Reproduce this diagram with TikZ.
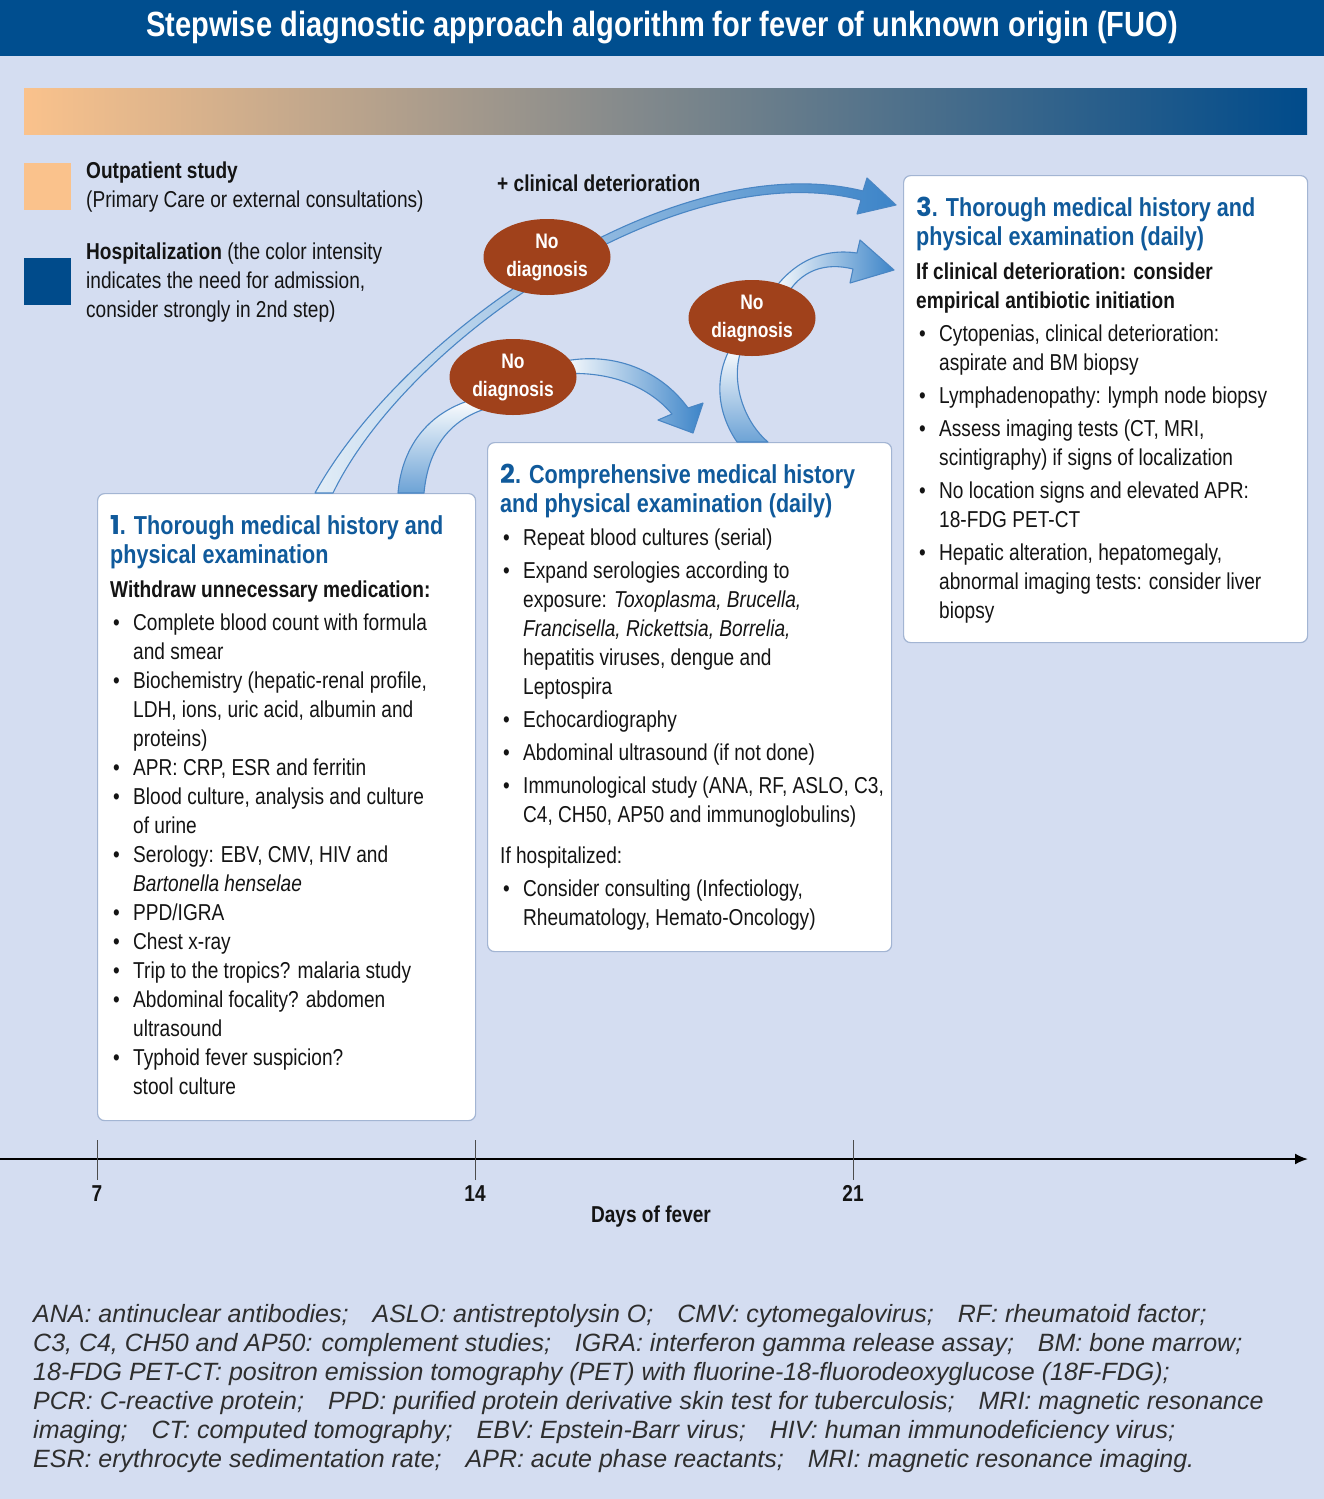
\documentclass[tikz,border=0pt]{standalone}
\usepackage{fontspec}
\setmainfont{Liberation Sans}[FakeStretch=0.83]
\newfontfamily\numfont{Poppins}
\newfontfamily\footfont{Liberation Sans}
\usetikzlibrary{arrows.meta,calc,positioning,shapes.geometric}

\definecolor{bgblue}{HTML}{D4DDF1}
\definecolor{hdrblue}{HTML}{004E8F}
\definecolor{peach}{HTML}{FAC28C}
\definecolor{hospblue}{HTML}{004B8B}
\definecolor{titleblue}{HTML}{105A9B}
\definecolor{rust}{HTML}{A0411B}
\definecolor{arrowblue}{HTML}{3C84C8}
\definecolor{arrowline}{HTML}{4A86C4}
\definecolor{boxline}{HTML}{A3B5D3}
\definecolor{txtblack}{HTML}{141414}
\definecolor{footgray}{HTML}{2E2E2E}

\newcommand\ttlfont{\color{titleblue}\bfseries\fontsize{26}{29}\selectfont}
\newcommand\bitm{\makebox[23pt][l]{\hspace*{3pt}\textbullet}}
\newcommand\bind{\hspace*{23pt}}
\newcommand\fsep{\hspace*{24pt}}

\tikzset{
 stepbox/.style={draw=boxline,line width=1.2pt,fill=white,rounded corners=7pt,anchor=north west,inner sep=0pt},
 boxtxt/.style={align=left,inner sep=0pt,font=\fontsize{23}{29}\selectfont,text=txtblack},
 nodiag/.style={ellipse,fill=rust,text=white,minimum width=127pt,minimum height=76pt,inner sep=0pt,align=center,font=\fontsize{21}{28}\selectfont\bfseries},
 fatarrow/.style={draw=arrowline,line width=1.1pt,line join=round},
 legendtxt/.style={align=left,inner sep=0pt,anchor=north west,font=\fontsize{23}{29}\selectfont,text=txtblack},
 daytick/.style={draw=black!70,line width=1pt},
 daylbl/.style={anchor=base,inner sep=0pt,font=\fontsize{23}{28}\selectfont\bfseries,text=txtblack}
}

\begin{document}
\begin{tikzpicture}[x=1pt,y=-1pt]
\useasboundingbox (0,0) rectangle (1324,1499);
\fill[bgblue] (0,0) rectangle (1324,1499);
\fill[hdrblue] (0,0) rectangle (1324,56);
\node[text=white,font=\fontsize{35}{40}\selectfont\bfseries] (title) at (662,28) {Stepwise diagnostic approach algorithm for fever of unknown origin (FUO)};
\shade[left color=peach,right color=hospblue] (24,88) rectangle (1307,134);

% legend
\fill[peach] (24,163) rectangle (71,210);
\fill[hospblue] (24,258) rectangle (71,305);
\node[legendtxt] (outpat) at (86,162) {\textbf{Outpatient study}\\(Primary Care or external consultations)};
\node[legendtxt] (hosp) at (86,243) {\textbf{Hospitalization} (the color intensity\\indicates the need for admission,\\consider strongly in 2nd step)};
\node[anchor=base west,inner sep=0pt,font=\fontsize{23}{29}\selectfont\bfseries,text=txtblack] (deter) at (497,191) {+ clinical deterioration};

% the three steps
\node[stepbox,minimum width=378pt,minimum height=627pt] (box1) at (97,493) {};
\node[stepbox,minimum width=404pt,minimum height=509pt] (box2) at (487,442) {};
\node[stepbox,minimum width=404pt,minimum height=467pt] (box3) at (903,175) {};

\node[boxtxt,below right=22pt and 13pt of box1.north west] (txt1) {%
{\ttlfont{\numfont 1}. Thorough medical history and}\\
{\ttlfont physical examination}\\[5pt]
\textbf{Withdraw unnecessary medication:}\\[4pt]
\bitm Complete blood count with formula\\
\bind and smear\\
\bitm Biochemistry (hepatic-renal profile,\\
\bind LDH, ions, uric acid, albumin and\\
\bind proteins)\\
\bitm APR: CRP, ESR and ferritin\\
\bitm Blood culture, analysis and culture\\
\bind of urine\\
\bitm Serology: EBV, CMV, HIV and\\
\bind\textit{Bartonella henselae}\\
\bitm PPD/IGRA\\
\bitm Chest x-ray\\
\bitm Trip to the tropics? malaria study\\
\bitm Abdominal focality? abdomen\\
\bind ultrasound\\
\bitm Typhoid fever suspicion?\\
\bind stool culture};

\node[boxtxt,below right=22pt and 13pt of box2.north west] (txt2) {%
{\ttlfont{\numfont 2}. Comprehensive medical history}\\
{\ttlfont and physical examination (daily)}\\[4pt]
\bitm Repeat blood cultures (serial)\\[4pt]
\bitm Expand serologies according to\\
\bind exposure: \textit{Toxoplasma, Brucella,}\\
\bind\textit{Francisella, Rickettsia, Borrelia,}\\
\bind hepatitis viruses, dengue and\\
\bind Leptospira\\[4pt]
\bitm Echocardiography\\[4pt]
\bitm Abdominal ultrasound (if not done)\\[4pt]
\bitm Immunological study (ANA, RF, ASLO, C3,\\
\bind C4, CH50, AP50 and immunoglobulins)\\[12pt]
If hospitalized:\\[4pt]
\bitm Consider consulting (Infectiology,\\
\bind Rheumatology, Hemato-Oncology)};

\node[boxtxt,below right=22pt and 13pt of box3.north west] (txt3) {%
{\ttlfont{\numfont 3}. Thorough medical history and}\\
{\ttlfont physical examination (daily)}\\[5pt]
\textbf{If clinical deterioration: consider}\\
\textbf{empirical antibiotic initiation}\\[4pt]
\bitm Cytopenias, clinical deterioration:\\
\bind aspirate and BM biopsy\\[4pt]
\bitm Lymphadenopathy: lymph node biopsy\\[4pt]
\bitm Assess imaging tests (CT, MRI,\\
\bind scintigraphy) if signs of localization\\[4pt]
\bitm No location signs and elevated APR:\\
\bind 18-FDG PET-CT\\[4pt]
\bitm Hepatic alteration, hepatomegaly,\\
\bind abnormal imaging tests: consider liver\\
\bind biopsy};

% curved arrows (drawn before the ellipses, which cover their joints)
\path[fatarrow,left color=white!85!arrowblue,right color=arrowblue]
 ($(box1.north west)+(218,0)$) .. controls (405,330) and (676,145) .. (863,191)
 -- (867,178) -- ($(box3.north west)+(-7,30)$) -- (857,214) -- (861,200)
 .. controls (680,153) and (408,338) .. ($(box1.north west)+(236,0)$) -- cycle;
\path[fatarrow,top color=white,bottom color=arrowblue!75]
 ($(box1.north west)+(301,0)$) .. controls (402,445) and (430,410) .. (478,398)
 -- (488,408) .. controls (448,420) and (428,450) .. ($(box1.north west)+(327,0)$) -- cycle;
\path[fatarrow,left color=white,right color=arrowblue]
 (560,362) .. controls (615,350) and (662,372) .. (688,408)
 -- (703,403) -- ($(box2.north west)+(206,-9)$) -- (658,420) -- (672,414)
 .. controls (650,388) and (612,370) .. (560,374) -- cycle;
\path[fatarrow,top color=white,bottom color=arrowblue!75]
 ($(box2.north west)+(250,0)$) .. controls (714,408) and (716,372) .. (732,345)
 -- (742,348) .. controls (730,378) and (742,420) .. ($(box2.north west)+(281,0)$) -- cycle;
\path[fatarrow,left color=white,right color=arrowblue]
 (770,295) .. controls (792,262) and (822,248) .. (857,253)
 -- (860,240) -- ($(box3.north west)+(-9,95)$) -- (850,283) -- (853,269)
 .. controls (825,262) and (800,270) .. (785,298) -- cycle;

\node[nodiag] (nd1) at (547,257) {No\\diagnosis};
\node[nodiag] (nd2) at (513,377) {No\\diagnosis};
\node[nodiag] (nd3) at (752,318) {No\\diagnosis};

% days axis
\coordinate (ax0) at (0,1159);
\coordinate (ax1) at (1308,1159);
\draw[line width=2pt,-{Latex[length=13pt,width=11pt]}] (ax0) -- (ax1);
\foreach \d/\x in {7/97,14/475,21/853}{
 \draw[daytick] (\x,1140) -- (\x,1180);
 \node[daylbl] (t\d) at (\x,1201) {\d};
}
\node[daylbl] (days) at (651,1222) {Days of fever};

% abbreviations
\node[anchor=north west,inner sep=0pt,align=left,font={\footfont\itshape\fontsize{25}{29}\selectfont},text=footgray] (abbr) at (33,1304) {%
ANA: antinuclear antibodies;\fsep ASLO: antistreptolysin O;\fsep CMV: cytomegalovirus;\fsep RF: rheumatoid factor;\\
C3, C4, CH50 and AP50: complement studies;\fsep IGRA: interferon gamma release assay;\fsep BM: bone marrow;\\
18-FDG PET-CT: positron emission tomography (PET) with fluorine-18-fluorodeoxyglucose (18F-FDG);\\
PCR: C-reactive protein;\fsep PPD: purified protein derivative skin test for tuberculosis;\fsep MRI: magnetic resonance\\
imaging;\fsep CT: computed tomography;\fsep EBV: Epstein-Barr virus;\fsep HIV: human immunodeficiency virus;\\
ESR: erythrocyte sedimentation rate;\fsep APR: acute phase reactants;\fsep MRI: magnetic resonance imaging.};
\end{tikzpicture}
\end{document}
